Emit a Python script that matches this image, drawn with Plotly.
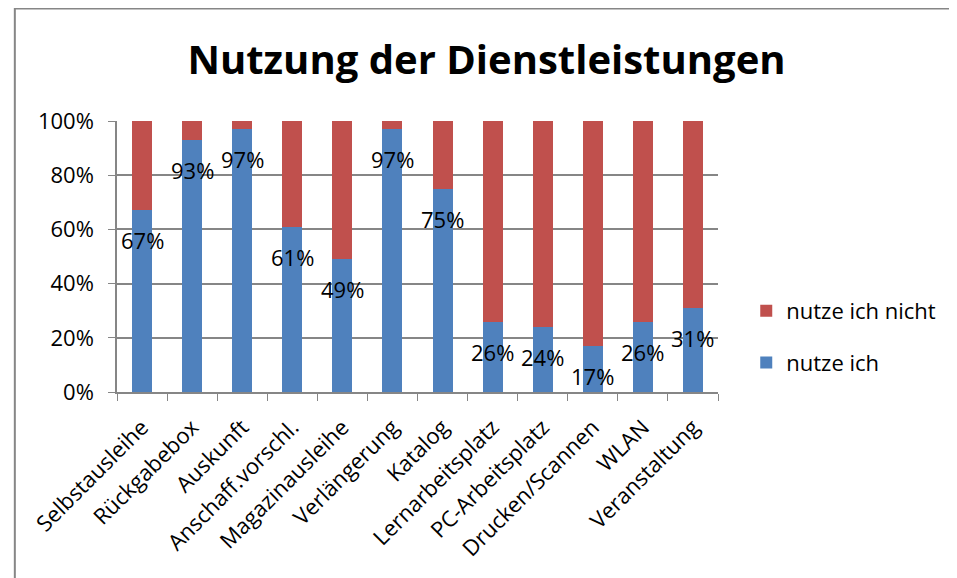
import plotly.graph_objects as go

# Daten
kategorien = ["Selbstausleihe", "Rückgabebox", "Auskunft", "Anschaff.vorschl.",
              "Magazinausleihe", "Verlängerung", "Katalog", "Lernarbeitsplatz",
              "PC-Arbeitsplatz", "Drucken/Scannen", "WLAN", "Veranstaltung"]
nutze_ich = [67, 93, 97, 61, 49, 97, 75, 26, 24, 17, 26, 31]
nutze_ich_nicht = [100 - v for v in nutze_ich]

BLAU = "#4F81BD"
ROT = "#C0504D"
GRAU = "#868686"
FONT = "Open Sans"

fig = go.Figure()
fig.add_trace(go.Bar(x=kategorien, y=nutze_ich, name="nutze ich",
                     marker=dict(color=BLAU, line=dict(width=0)),
                     legendgroup="a", legendrank=2))
fig.add_trace(go.Bar(x=kategorien, y=nutze_ich_nicht, name="nutze ich nicht",
                     marker=dict(color=ROT, line=dict(width=0)),
                     legendgroup="b", legendrank=1))

# Datenbeschriftungen am oberen Ende der blauen Balken
for k, v in zip(kategorien, nutze_ich):
    fig.add_annotation(x=k, y=v, text=f"{v}%", showarrow=False,
                       yanchor="middle", yshift=-30,
                       font=dict(family=FONT, size=22, color="black"))

# Rahmen um das Diagramm
fig.add_shape(type="rect", xref="paper", yref="paper",
              x0=-0.17, x1=1.6, y0=-1.0, y1=1.415,
              line=dict(color=GRAU, width=2), layer="below")

fig.update_layout(
    template="none",
    barmode="stack",
    bargap=0.6,
    width=957, height=578,
    margin=dict(l=109, r=247, t=113, b=194),
    paper_bgcolor="white", plot_bgcolor="white",
    font=dict(family=FONT, size=22, color="black"),
    title=dict(text="<b>Nutzung der Dienstleistungen</b>", x=0.5, xanchor="center",
               y=0.91, yanchor="middle",
               font=dict(family=FONT, size=40, color="black")),
    legend=dict(x=1.047, y=0.203, xanchor="left", yanchor="middle",
                traceorder="grouped", tracegroupgap=20,
                font=dict(family=FONT, size=22)),
    xaxis=dict(tickangle=-45, showline=True, linecolor=GRAU, linewidth=1.5,
               ticks="outside", tickson="boundaries", ticklen=7, tickcolor=GRAU,
               ticklabelstandoff=12,
               showgrid=False, zeroline=False),
    yaxis=dict(range=[0, 100], tickvals=[0, 20, 40, 60, 80, 100],
               ticktext=["0%", "20%", "40%", "60%", "80%", "100%"],
               showline=True, linecolor=GRAU, linewidth=1.5,
               ticks="outside", ticklen=7, tickcolor=GRAU, ticklabelstandoff=10,
               showgrid=True, gridcolor=GRAU, gridwidth=1.5, zeroline=False),
)

fig.write_html("out.html")
